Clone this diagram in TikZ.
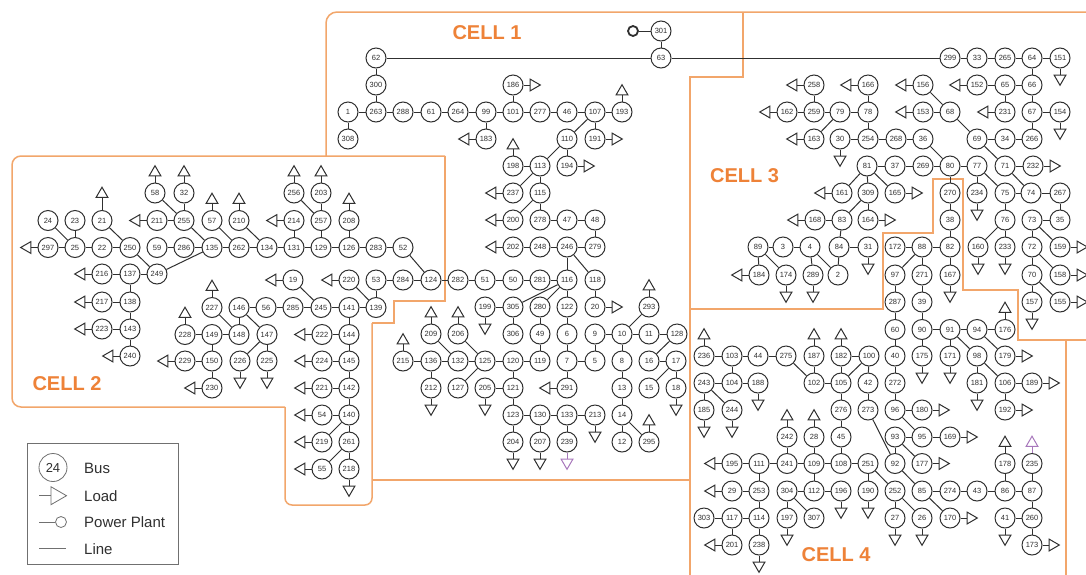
\documentclass[tikz,border=0pt]{standalone}
\usepackage{fontspec}
\setmainfont{Liberation Sans}
\usetikzlibrary{shapes.geometric,calc}
\definecolor{cellor}{HTML}{F2A66B}
\definecolor{celltx}{HTML}{EE8238}
\definecolor{ink}{HTML}{303030}
\definecolor{legline}{HTML}{707070}
\definecolor{purp}{HTML}{A878BC}
\tikzset{
  bus/.style={circle,draw=ink,fill=white,line width=1pt,minimum size=20pt,inner sep=0pt,font=\fontsize{7.5}{8}\selectfont,text=ink},
  loadtri/.style={regular polygon,regular polygon sides=3,draw=ink,line width=1pt,minimum size=13.6pt,inner sep=0pt,outer sep=0pt},
  link/.style={draw=ink,line width=1pt},
  cellline/.style={draw=cellor,line width=1.5pt},
  celllabel/.style={font=\fontsize{20}{22}\selectfont\bfseries,text=celltx},
  legtext/.style={font=\fontsize{15}{17}\selectfont,text=ink,anchor=west,inner sep=0pt},
  legsym/.style={draw=legline,line width=.8pt}
}
\begin{document}
\begin{tikzpicture}[x=1pt,y=-1pt]
\useasboundingbox (0,0) rectangle (1086,574);
\fill[white] (0,0) rectangle (1086,574);
% cells
\draw[cellline,rounded corners=11pt] (326,156) -- (326,12) -- (1090,12);
\draw[cellline] (743,12) -- (743,77) -- (690,77) -- (690,578);
\draw[cellline] (372,480) -- (690,480);
\draw[cellline] (690,309) -- (883,309) -- (883,233) -- (933,233) -- (933,179) -- (963,179) -- (963,290) -- (1018,290) -- (1018,340) -- (1090,340);
\draw[cellline] (1066,340) -- (1066,578);
\draw[cellline,rounded corners=9pt] (445,156) -- (12,156) -- (12,407) -- (285,407);
\draw[cellline,rounded corners=7pt] (285,407) -- (285,505) -- (372,505) -- (372,323);
\draw[cellline] (372,323) -- (394,323) -- (394,301) -- (445,301) -- (445,156);
\node[celllabel] (c1) at (487,33) {CELL 1};
\node[celllabel] (c2) at (67,384) {CELL 2};
\node[celllabel] (c3) at (744.5,176) {CELL 3};
\node[celllabel] (c4) at (836,555) {CELL 4};
% buses
\foreach \n/\x/\y in {
 301/661/31, 62/376/58, 63/661/58, 300/376/85, 186/513/85,
 1/348/112, 263/376/112, 288/403/112, 61/431/112, 264/458/112, 99/486/112, 101/513/112, 277/540/112, 46/567/112, 107/595/112, 193/622/112,
 308/348/139, 183/486/139, 110/567/139, 191/595/139,
 198/513/166, 113/540/166, 194/567/166,
 237/513/193, 115/540/193,
 200/513/220, 278/540/220, 47/567/220, 48/595/220,
 202/513/247, 248/540/247, 246/567/247, 279/595/247,
 58/155/193, 32/184/193, 256/294/193, 203/321/193,
 24/48/220.5, 23/75/220.5, 21/102/220.5, 211/157/220.5, 255/184/220.5, 57/212/220.5, 210/239/220.5, 214/294/220.5, 257/321/220.5, 208/349/220.5,
 297/48/247.5, 25/75/247.5, 22/102/247.5, 250/130/247.5, 59/157/247.5, 286/184/247.5, 135/212/247.5, 262/239/247.5, 134/267/247.5, 131/294/247.5, 129/321/247.5, 126/349/247.5, 283/376/247.5, 52/403/247.5,
 216/102/274, 137/130/274, 249/157/274,
 217/102/302, 138/130/302, 223/102/329, 143/130/329, 240/130/356,
 19/293/280, 220/349/280, 53/376/280, 284/403/280, 124/431/280, 282/458/280, 51/485/280, 50/513/280, 281/540/280, 116/567/280, 118/595/280,
 227/212/307.5, 146/239/307.5, 56/266/307.5, 285/293/307.5, 245/321/307.5, 141/349/307.5, 139/376/307.5,
 199/485/307, 305/513/307, 280/540/307, 122/567/307, 20/595/307, 293/649/307,
 228/185/334.5, 149/212/334.5, 148/239/334.5, 147/267/334.5, 222/322/334.5, 144/349/334.5,
 209/431/334, 206/458/334, 306/513/334, 49/540/334, 6/567/334, 9/595/334, 10/622/334, 11/649/334, 128/677/334,
 229/185/361, 150/212/361, 226/240/361, 225/267/361, 224/322/361, 145/349/361,
 215/403/361, 136/431/361, 132/458/361, 125/485/361, 120/513/361, 119/540/361, 7/567/361, 5/595/361, 8/622/361, 16/649/361, 17/676/361,
 230/212/388, 221/322/388, 142/349/388,
 212/431/388, 127/458/388, 205/485/388, 121/513/388, 291/567/388, 13/622/388, 15/649/388, 18/676/388,
 54/322/415, 140/349/415, 123/513/415, 130/540/415, 133/567/415, 213/595/415, 14/622/415,
 219/322/442, 261/349/442, 204/513/442, 207/540/442, 239/567/442, 12/622/442, 295/649/442,
 55/322/469, 218/349/469,
 299/950/58, 33/977/58, 265/1005/58, 64/1032/58, 151/1060/58,
 258/814/85, 166/868/85, 156/923/85, 152/977/85, 65/1005/85, 66/1032/85,
 162/787/112, 259/814/112, 79/840/112, 78/868/112, 153/923/112, 68/950/112, 231/1005/112, 67/1032/112, 154/1060/112,
 163/814/139, 30/840/139, 254/868/139, 268/896/139, 36/923/139, 69/977/139, 34/1005/139, 266/1032/139,
 81/867/166, 37/895/166, 269/923/166, 80/950/166, 77/977/166, 71/1005/166, 232/1033/166,
 161/842/193, 309/868/193, 165/895/193, 270/950/193, 234/977/193, 75/1005/193, 74/1031/193, 267/1060/193,
 168/815/220, 83/842/220, 164/868/220, 38/950/220, 76/1005/220, 73/1032/220, 35/1060/220,
 89/758/247, 3/783/247, 4/810/247, 84/839/247, 31/868/247, 172/895/247, 88/922/247, 82/950/247, 160/978/247, 233/1005/247, 72/1032/247, 159/1060/247,
 184/759/275, 174/786/275, 289/813/275, 2/838/275, 97/895/275, 271/922/275, 167/950/275, 70/1032/275, 158/1060/275,
 287/895/302, 39/922/302, 157/1032/302, 155/1060/302,
 60/895/329.5, 90/922/329.5, 91/950/329.5, 94/977/329.5, 176/1005/329.5,
 236/704/356, 103/732/356, 44/758/356, 275/786/356, 187/814/356, 182/841/356, 100/869/356, 40/895/356, 175/922/356, 171/950/356, 98/977/356, 179/1005/356,
 243/704/383, 104/732/383, 188/758/383, 102/814/383, 105/841/383, 42/868/383, 272/895/383, 181/977/383, 106/1005/383, 189/1032/383,
 185/704/410, 244/732/410, 276/841/410, 273/868/410, 96/895/410, 180/922/410, 192/1005/410,
 242/787/437, 28/814/437, 45/841/437, 93/895/437, 95/922/437, 169/950/437,
 195/732/463.5, 111/759/463.5, 241/787/463.5, 109/814/463.5, 108/841/463.5, 251/868/463.5, 92/895/463.5, 177/922/463.5, 178/1005/463.5, 235/1032/463.5,
 29/732/491, 253/759/491, 304/787/491, 112/814/491, 196/841/491, 190/868/491, 252/895/491, 85/922/491, 274/950/491, 43/977/491, 86/1005/491, 87/1032/491,
 303/704/518, 117/732/518, 114/759/518, 197/787/518, 307/814/518, 27/895/518, 26/922/518, 170/950/518, 41/1005/518, 260/1032/518,
 201/732/545, 238/759/545, 173/1032/545%
}{\node[bus] (b\n) at (\x,\y) {\n};}
% lines
\foreach \a/\b in {
 301/63, 62/63, 62/300, 300/263, 1/263, 1/308, 263/288, 288/61, 61/264, 264/99, 99/101, 99/183, 101/186, 101/277, 277/46, 46/107, 107/193, 107/191, 107/110, 110/113, 110/194,
 63/299, 198/113, 113/237, 113/115, 115/200, 115/278, 278/47, 47/48, 48/279, 279/246, 246/248, 248/202, 246/116, 246/118, 118/20,
 116/305, 116/280, 116/122, 116/281, 281/50, 50/51, 51/282, 282/124, 199/305, 305/306, 280/49, 49/119, 122/6, 6/7, 7/5, 5/9, 9/10, 10/293, 10/11, 11/128, 128/16, 16/17, 17/15, 17/18, 10/8, 8/13, 13/14, 14/12, 14/295, 7/291,
 215/136, 136/132, 132/125, 125/120, 120/119, 209/132, 206/125, 136/212, 127/125, 205/121, 120/121, 121/123, 123/130, 130/133, 133/213, 123/204, 130/207,
 24/25, 23/25, 297/25, 25/22, 22/250, 21/250, 250/249, 249/135, 59/286, 286/135, 135/262, 262/134, 134/131, 131/129, 129/126, 126/283, 283/52, 52/124, 58/255, 32/255, 211/255, 255/135, 57/262, 210/134, 214/131, 256/257, 257/129, 203/257, 208/126,
 216/137, 137/249, 137/138, 217/138, 138/143, 223/143, 143/240,
 285/56, 56/146, 146/148, 146/147, 227/148, 228/149, 149/148, 149/150, 229/150, 150/230, 147/226, 147/225, 285/245, 245/141, 141/139, 19/245, 220/139, 53/139, 53/284, 284/124, 141/144, 144/145, 145/142, 142/140, 140/261, 261/218, 222/144, 224/145, 221/142, 54/140, 219/140, 55/261,
 299/33, 33/265, 265/64, 64/151, 64/66, 66/65, 65/152, 65/231, 66/67, 67/154, 67/266, 266/34, 34/69, 69/68, 69/71, 68/153, 68/156, 71/232, 71/74, 36/80, 36/268, 268/254, 254/30, 254/78, 78/166, 78/79, 79/259, 259/258, 259/162, 79/163, 80/269, 269/37, 37/81, 80/77, 80/270, 77/234, 77/75, 75/74, 74/267, 267/35, 35/73, 73/72, 73/159, 72/70, 72/158, 70/157, 70/155, 75/76, 76/233, 76/160,
 81/161, 81/309, 81/165, 309/164, 309/83, 83/168, 83/84, 84/31, 84/2, 4/2, 4/3, 3/89, 89/184, 89/174, 4/289, 270/38, 38/82, 82/88, 88/172, 88/97, 88/271, 82/167, 97/287, 287/60, 271/39, 39/90, 90/91, 91/94, 94/176, 60/40, 90/175, 91/171, 91/98, 94/179, 98/181, 98/106, 106/189, 106/192,
 100/42, 42/273, 40/272, 272/96, 96/180, 96/95, 93/95, 95/169, 93/177, 93/92, 92/85, 273/92, 85/274, 274/43, 43/86, 86/87, 86/178, 87/235, 87/260, 260/41, 260/173, 85/170, 251/252, 251/190, 252/27, 252/26,
 236/103, 103/44, 44/275, 275/102, 103/104, 243/104, 104/188, 243/185, 243/244, 102/187, 102/105, 105/182, 105/100, 182/100, 105/276, 276/45, 45/108, 108/109, 109/241, 241/111, 111/195, 108/251, 242/241, 28/109, 109/112, 112/196, 112/304, 304/197, 304/307, 111/253, 29/253, 253/114, 117/114, 303/117, 117/201, 114/238%
}{\draw[link] (b\a) -- (b\b);}
% loads
\foreach \n/\d in {
 186/0, 193/90, 183/180, 191/0, 198/90, 194/0, 237/180, 200/180, 202/180, 20/0, 293/90, 199/-90, 209/90, 206/90, 215/90, 212/-90, 205/-90, 291/180, 213/-90, 204/-90, 207/-90, 18/-90, 295/90,
 58/90, 32/90, 256/90, 203/90, 57/90, 210/90, 211/180, 214/180, 208/90, 297/180, 216/180, 217/180, 223/180, 240/180,
 19/180, 220/180, 227/90, 228/90, 229/180, 230/180, 226/-90, 225/-90, 222/180, 224/180, 221/180, 54/180, 219/180, 55/180, 218/-90,
 151/-90, 154/-90, 152/180, 231/180, 258/180, 166/180, 156/180, 162/180, 163/180, 153/180, 30/-90, 232/0, 161/180, 165/0, 234/-90, 168/180, 164/0, 159/0, 158/0, 155/0, 160/-90, 233/-90, 31/-90, 184/180, 174/-90, 289/-90, 167/-90, 157/-90, 176/90, 175/-90, 171/-90, 179/0, 181/-90, 189/0, 192/0,
 180/0, 169/0, 177/0, 178/90, 170/0, 190/-90, 27/-90, 26/-90, 41/-90, 173/0,
 236/90, 187/90, 182/90, 188/-90, 185/-90, 244/-90, 242/90, 28/90, 195/180, 29/180, 196/-90, 197/-90, 201/180, 238/-90%
}{\node[loadtri,regular polygon rotate=\d-90] (l\n) at ($(b\n)+(\d:20.5pt)$) {};
  \draw[link] (b\n) -- (l\n);}
\node[loadtri] (l21) at ($(b21)+(90:26.5pt)$) {};
\draw[link] (b21) -- (l21);
\node[loadtri,draw=purp] (l235) at ($(b235)+(90:20.5pt)$) {};
\draw[link,draw=purp] (b235) -- (l235);
\node[loadtri,draw=purp,regular polygon rotate=180] (l239) at ($(b239)+(-90:20.5pt)$) {};
\draw[link,draw=purp] (b239) -- (l239);
\draw[link] (b133) -- (b239);
% power plant
\node[circle,draw=ink,line width=1.8pt,minimum size=10pt,inner sep=0pt] (pp) at (633,31) {};
\draw[link] (b301) -- (pp);
% legend
\node[draw=legline,line width=.8pt,minimum width=150.6pt,minimum height=121.4pt,inner sep=0pt] (legbox) at (103,504) {};
\node[circle,draw=legline,line width=.8pt,minimum size=28pt,inner sep=0pt,font=\fontsize{13}{15}\selectfont,text=ink] (leg24) at (53,467.5) {24};
\node[legtext] (tbus) at (84,468.5) {Bus};
\coordinate (la) at (39,495.7);
\node[legsym,isosceles triangle,isosceles triangle apex angle=60,minimum height=15.5pt,inner sep=0pt,outer sep=0pt,anchor=lower side] (legload) at (51,495.7) {};
\draw[legsym] (la) -- (legload);
\node[legtext] (tload) at (84,495.7) {Load};
\coordinate (lb) at (39,522);
\node[legsym,circle,minimum size=11pt,inner sep=0pt] (legpp) at (61,522) {};
\draw[legsym] (lb) -- (legpp);
\node[legtext] (tpp) at (84,522) {Power Plant};
\coordinate (lc) at (39,548);
\coordinate (ld) at (66,548);
\draw[legsym] (lc) -- (ld);
\node[legtext] (tline) at (84,549) {Line};
\end{tikzpicture}
\end{document}
